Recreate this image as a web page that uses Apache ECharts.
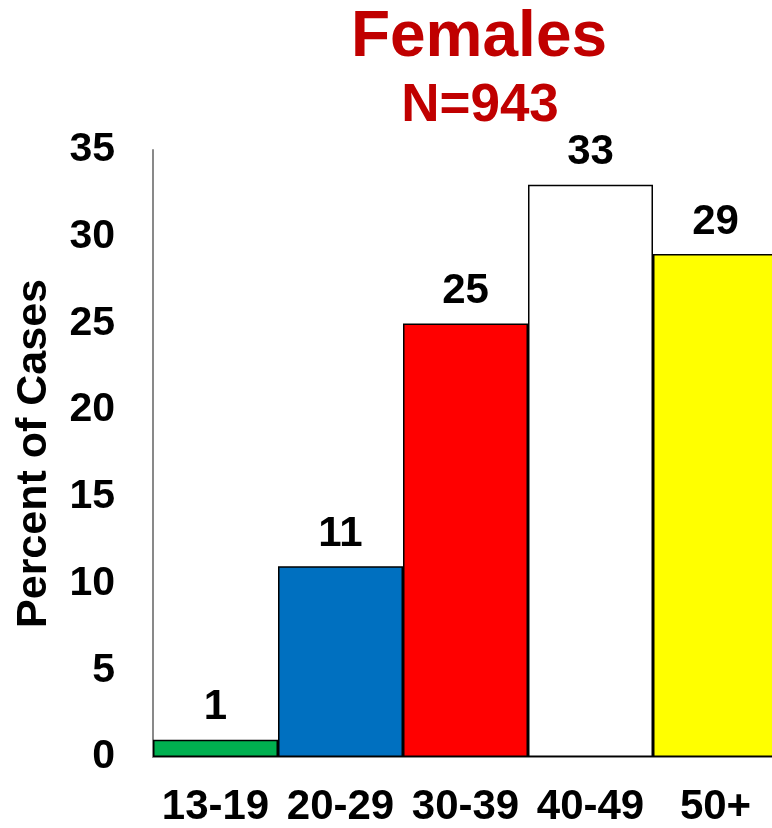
<!DOCTYPE html>
<html>
<head>
<meta charset="utf-8">
<script src="https://cdn.jsdelivr.net/npm/echarts@6/dist/echarts.min.js"></script>
<style>
html,body{margin:0;padding:0;background:#fff;overflow:hidden;width:772px;height:828px;}
#chart{width:779px;height:828px;}
</style>
</head>
<body>
<div id="chart"></div>
<script>
const categories = ['13-19', '20-29', '30-39', '40-49', '50+'];
const percentValues = [1, 11, 25, 33, 29];
const barColors = ['#00B050', '#0070C0', '#FF0000', '#FFFFFF', '#FFFF00'];
const titleText = 'Females';
const subtitleText = 'N=943';
const yAxisTitle = 'Percent of Cases';

const FONT = 'Arial, "Liberation Sans", sans-serif';
const chart = echarts.init(document.getElementById('chart'), null, {renderer: 'canvas'});

chart.setOption({
  animation: false,
  backgroundColor: '#ffffff',
  title: [
    {text: titleText, left: 474, top: 1, textAlign: 'center',
     textStyle: {fontFamily: FONT, fontSize: 64, fontWeight: 'bold', color: '#C00000'}},
    {text: subtitleText, left: 475, top: 75, textAlign: 'center',
     textStyle: {fontFamily: FONT, fontSize: 53, fontWeight: 'bold', color: '#C00000'}}
  ],
  grid: {left: 153, top: 150, right: 1, bottom: 69, containLabel: false},
  xAxis: {
    type: 'category',
    data: categories,
    axisLine: {show: true, lineStyle: {color: '#898989', width: 2}},
    axisTick: {show: false},
    axisLabel: {fontFamily: FONT, fontSize: 42, fontWeight: 'bold', color: '#000', margin: 29, interval: 0}
  },
  yAxis: {
    type: 'value',
    min: 0, max: 35, interval: 5,
    name: yAxisTitle,
    nameLocation: 'middle',
    nameGap: 97,
    nameTextStyle: {fontFamily: FONT, fontSize: 43, fontWeight: 'bold', color: '#000'},
    axisLine: {show: true, lineStyle: {color: '#898989', width: 2}},
    axisTick: {show: false},
    splitLine: {show: false},
    axisLabel: {fontFamily: FONT, fontSize: 41, fontWeight: 'bold', color: '#000', margin: 38}
  },
  series: [{
    type: 'bar',
    data: percentValues.map((v, i) => ({value: v, itemStyle: {color: barColors[i]}})),
    barCategoryGap: '0%',
    itemStyle: {borderColor: '#000', borderWidth: 1.5},
    label: {show: true, position: 'top', distance: 11, fontFamily: FONT, fontSize: 42, fontWeight: 'bold', color: '#000'}
  }]
});
</script>
</body>
</html>
